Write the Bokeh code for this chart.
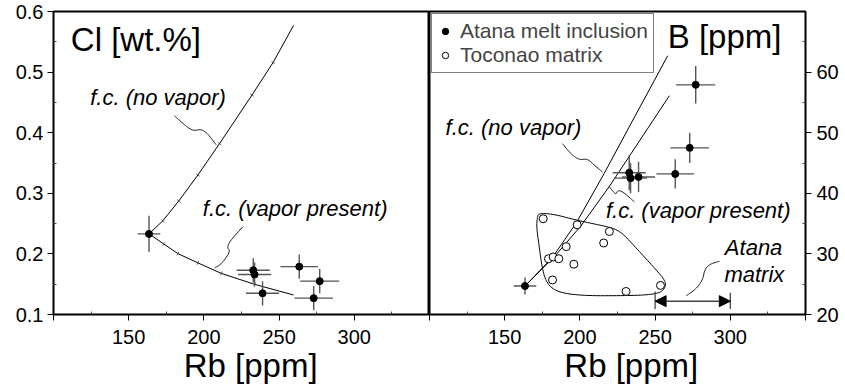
import math
from bokeh.plotting import figure
from bokeh.layouts import row
from bokeh.models import FixedTicker, Label, Arrow, NormalHead, Legend, LegendItem
from bokeh.embed import file_html
from bokeh.resources import INLINE

FONT = "Liberation Sans"

# ---------------- data ----------------
# Atana melt inclusions
rb_mi = [163.5, 232.8, 233.7, 239.0, 263.4, 277.0, 273.0]
rb_err = [7.5, 11.0, 11.0, 11.0, 12.5, 13.0, 12.8]
cl_mi = [0.233, 0.173, 0.166, 0.135, 0.179, 0.155, 0.127]
cl_err = [0.030, 0.020, 0.020, 0.020, 0.020, 0.020, 0.020]
b_mi = [24.7, 43.4, 42.5, 42.7, 43.2, 57.9, 47.5]
b_err = [1.4, 2.9, 2.5, 2.5, 2.4, 3.1, 2.5]

# Toconao matrix
rb_toc = [175.6, 198.2, 219.6, 215.8, 190.9, 179.1, 182.2, 186.0, 196.0, 181.8, 230.7, 253.6]
b_toc = [35.8, 34.8, 33.7, 31.8, 31.2, 29.2, 29.5, 29.2, 28.3, 25.7, 23.8, 24.8]

# fractional crystallisation model curves
fc_nv_rb_cl = [163.5, 172.7, 183.3, 196.0, 210.4, 232.0, 246.0, 259.6]
fc_nv_cl = [0.233, 0.2546, 0.2874, 0.3301, 0.3820, 0.4623, 0.5158, 0.5770]
fc_vp_rb_cl = [163.5, 173.3, 182.7, 196.0, 211.6, 233.8, 259.6]
fc_vp_cl = [0.233, 0.2164, 0.2005, 0.1852, 0.1678, 0.1497, 0.1322]
fc_nv_rb_b = [163.5, 181.7, 197.8, 216.2, 237.0, 258.4]
fc_nv_b = [24.7, 29.4, 35.2, 43.3, 52.9, 62.7]
fc_vp_rb_b = [163.5, 183.9, 200.6, 219.5, 259.5]
fc_vp_b = [24.7, 29.8, 34.6, 41.1, 56.1]

# outline around Toconao matrix field
hull_rb = [172.9, 181.8, 197.3, 208.4, 221.8, 228.4, 237.3, 248.4, 256.2, 257.3, 254.0, 244.0,
           226.2, 204.0, 188.4, 180.7, 176.9, 174.7, 172.9, 171.1, 171.8]
hull_b = [36.7, 36.6, 35.6, 35.0, 34.3, 33.4, 31.0, 28.0, 25.8, 24.7, 23.6, 23.2,
          23.1, 23.1, 23.5, 24.4, 25.8, 28.0, 31.3, 34.5, 36.2]

# Atana matrix range
atana_rb = [250, 300]

x_ticks = [100, 150, 200, 250, 300, 350]
x_minor = [125, 175, 225, 275, 325]
cl_ticks = [0.1, 0.2, 0.3, 0.4, 0.5, 0.6]
cl_minor = [0.15, 0.25, 0.35, 0.45, 0.55]
b_ticks = [20, 30, 40, 50, 60]
b_minor = [25, 35, 45, 55, 65]

# leader squiggles (annotation geometry)
lead_cl_nv = ([180.4, 186.7, 192.7, 197.8, 202.2, 208.2], [0.428, 0.4137, 0.4027, 0.406, 0.3995, 0.380])
lead_cl_vp = ([226.0, 217.1, 215.5, 217.7, 211.5, 207.1], [0.245, 0.2207, 0.2098, 0.2043, 0.1825, 0.177])
lead_b_nv = ([188.4, 194.0, 199.5, 205.0, 208.4, 215.1], [48.2, 46.5, 45.5, 45.7, 44.9, 43.5])
lead_b_vp = ([219.5, 224.0, 225.0, 228.4, 236.2], [41.1, 39.7, 40.5, 40.3, 38.6])
lead_atana = ([270.7, 277.3, 281.8, 282.9, 286.2, 292.9], [23.1, 24.2, 25.8, 27.4, 28.3, 28.8])


def chaikin(xs, ys, n=3, closed=False):
    pts = list(zip(xs, ys))
    for _ in range(n):
        new = []
        m = len(pts)
        rng = range(m) if closed else range(m - 1)
        if not closed:
            new.append(pts[0])
        for i in rng:
            p0 = pts[i]
            p1 = pts[(i + 1) % m]
            new.append((0.75 * p0[0] + 0.25 * p1[0], 0.75 * p0[1] + 0.25 * p1[1]))
            new.append((0.25 * p0[0] + 0.75 * p1[0], 0.25 * p0[1] + 0.75 * p1[1]))
        if not closed:
            new.append(pts[-1])
        pts = new
    if closed:
        pts.append(pts[0])
    return [p[0] for p in pts], [p[1] for p in pts]


def perp_angles(xs, ys, sx, sy):
    # angle (radians) perpendicular to the curve at interior points, in screen space
    out = []
    for i in range(1, len(xs) - 1):
        dx = (xs[i + 1] - xs[i - 1]) * sx
        dy = (ys[i + 1] - ys[i - 1]) * sy
        out.append(math.atan2(dy, dx) + math.pi / 2)
    return out


def style_axis(ax):
    ax.axis_line_color = "black"
    ax.axis_line_width = 1
    ax.major_tick_line_color = "black"
    ax.major_tick_out = 6
    ax.major_tick_in = 0
    ax.minor_tick_line_color = "#444444"
    ax.minor_tick_in = 3
    ax.minor_tick_out = 0
    ax.major_label_text_font = FONT
    ax.major_label_text_font_size = "20px"
    ax.major_label_text_color = "black"
    ax.major_label_standoff = 9
    ax.axis_label_text_font = FONT
    ax.axis_label_text_font_size = "33px"
    ax.axis_label_text_font_style = "normal"
    ax.axis_label_text_color = "black"
    ax.axis_label_standoff = 0


H = 390
ERR_C = "#555555"
NB = "\u00a0"

# ---------------- left panel: Cl ----------------
p1 = figure(width=429, height=H, x_range=(100, 350), y_range=(0.1, 0.6),
            output_backend="svg", toolbar_location=None,
            min_border_left=53, min_border_right=0, min_border_top=11, min_border_bottom=76)
p1.grid.visible = False
p1.outline_line_color = "black"
p1.outline_line_width = 2
p1.background_fill_color = "white"
p1.border_fill_color = "white"
p1.xaxis.ticker = FixedTicker(ticks=x_ticks, minor_ticks=x_minor)
p1.xaxis.major_label_overrides = {100: "", 350: ""}
p1.yaxis.ticker = FixedTicker(ticks=cl_ticks, minor_ticks=cl_minor)
p1.xaxis.axis_label = NB * 2 + "Rb [ppm]"
style_axis(p1.xaxis[0])
style_axis(p1.yaxis[0])
p1.yaxis[0].major_label_standoff = 4

p1.line(fc_nv_rb_cl, fc_nv_cl, line_color="black", line_width=1)
p1.line(fc_vp_rb_cl, fc_vp_cl, line_color="black", line_width=1)
# small step marks along the model curves
sx_px, sy_px = 1.5, 606.0
p1.scatter(fc_nv_rb_cl[1:-1], fc_nv_cl[1:-1], marker="dash", size=4, line_color="#333333", line_width=0.8,
           angle=perp_angles(fc_nv_rb_cl, fc_nv_cl, sx_px, sy_px))
p1.scatter(fc_vp_rb_cl[1:-1], fc_vp_cl[1:-1], marker="dash", size=4, line_color="#333333", line_width=0.8,
           angle=perp_angles(fc_vp_rb_cl, fc_vp_cl, sx_px, sy_px))

p1.segment(x0=[r - e for r, e in zip(rb_mi, rb_err)], x1=[r + e for r, e in zip(rb_mi, rb_err)],
           y0=cl_mi, y1=cl_mi, line_color=ERR_C, line_width=1.4)
p1.segment(x0=rb_mi, x1=rb_mi, y0=[c - e for c, e in zip(cl_mi, cl_err)],
           y1=[c + e for c, e in zip(cl_mi, cl_err)], line_color=ERR_C, line_width=1.4)
p1.scatter(rb_mi, cl_mi, marker="circle", size=7, fill_color="black", line_color="black")

for lx, ly in (lead_cl_nv, lead_cl_vp):
    sx, sy = chaikin(lx, ly, 3)
    p1.line(sx, sy, line_color="black", line_width=0.9)

p1.add_layout(Label(x=111.5, y=0.553, text="Cl [wt.%]", text_font=FONT, text_font_size="33px",
                    text_baseline="alphabetic", text_color="black"))
p1.add_layout(Label(x=124.4, y=0.458, text="f.c. (no vapor)", text_font=FONT, text_font_size="22px",
                    text_font_style="italic", text_baseline="middle", text_color="black"))
p1.add_layout(Label(x=199.3, y=0.2754, text="f.c. (vapor present)", text_font=FONT, text_font_size="22px",
                    text_font_style="italic", text_baseline="middle", text_color="black"))

# ---------------- right panel: B ----------------
p2 = figure(width=416, height=H, x_range=(100, 350), y_range=(20, 70),
            output_backend="svg", toolbar_location=None, y_axis_location="right",
            min_border_left=0, min_border_right=40, min_border_top=11, min_border_bottom=76)
p2.grid.visible = False
p2.outline_line_color = "black"
p2.outline_line_width = 2
p2.background_fill_color = "white"
p2.border_fill_color = "white"
p2.xaxis.ticker = FixedTicker(ticks=x_ticks, minor_ticks=x_minor)
p2.xaxis.major_label_overrides = {100: "", 350: ""}
p2.yaxis.ticker = FixedTicker(ticks=b_ticks, minor_ticks=b_minor)
p2.xaxis.axis_label = NB * 3 + "Rb [ppm]"
style_axis(p2.xaxis[0])
style_axis(p2.yaxis[0])
p2.yaxis[0].major_label_standoff = 5

hx, hy = chaikin(hull_rb, hull_b, 3, closed=True)
p2.line(hx, hy, line_color="black", line_width=1)
p2.line(fc_nv_rb_b, fc_nv_b, line_color="black", line_width=1)
p2.line(fc_vp_rb_b, fc_vp_b, line_color="black", line_width=1)

p2.segment(x0=[r - e for r, e in zip(rb_mi, rb_err)], x1=[r + e for r, e in zip(rb_mi, rb_err)],
           y0=b_mi, y1=b_mi, line_color=ERR_C, line_width=1.4)
p2.segment(x0=rb_mi, x1=rb_mi, y0=[c - e for c, e in zip(b_mi, b_err)],
           y1=[c + e for c, e in zip(b_mi, b_err)], line_color=ERR_C, line_width=1.4)
r_mi = p2.scatter(rb_mi, b_mi, marker="circle", size=7, fill_color="black", line_color="black")
r_toc = p2.scatter(rb_toc, b_toc, marker="circle", size=8, fill_color="white", line_color="black",
                   line_width=1)

for lx, ly in (lead_b_nv, lead_b_vp, lead_atana):
    sx, sy = chaikin(lx, ly, 3)
    p2.line(sx, sy, line_color="black", line_width=0.9)

# Atana matrix range arrow
p2.add_layout(Arrow(x_start=atana_rb[0], x_end=atana_rb[1], y_start=22.2, y_end=22.2,
                    line_color="#444444", line_width=1.5,
                    start=NormalHead(size=11, fill_color="black", line_color="black"),
                    end=NormalHead(size=11, fill_color="black", line_color="black")))
p2.segment(x0=atana_rb, x1=atana_rb, y0=[20.9, 20.9], y1=[23.8, 23.6], line_color="#444444", line_width=1.3)

p2.add_layout(Label(x=258.4, y=65.8, text="B [ppm]", text_font=FONT, text_font_size="33px",
                    text_baseline="alphabetic", text_color="black"))
p2.add_layout(Label(x=110.7, y=50.9, text="f.c. (no vapor)", text_font=FONT, text_font_size="22px",
                    text_font_style="italic", text_baseline="middle", text_color="black"))
p2.add_layout(Label(x=217.3, y=37.2, text="f.c. (vapor present)", text_font=FONT, text_font_size="22px",
                    text_font_style="italic", text_baseline="middle", text_color="black"))
p2.add_layout(Label(x=315.5, y=31.0, text="Atana", text_font=FONT, text_font_size="22px",
                    text_font_style="italic", text_baseline="middle", text_align="center", text_color="black"))
p2.add_layout(Label(x=316.0, y=26.6, text="matrix", text_font=FONT, text_font_size="22px",
                    text_font_style="italic", text_baseline="middle", text_align="center", text_color="black"))

legend = Legend(items=[LegendItem(label="Atana melt inclusion", renderers=[r_mi]),
                       LegendItem(label="Toconao matrix", renderers=[r_toc])],
                location="top_left", margin=2, padding=5, spacing=0,
                label_text_font=FONT, label_text_font_size="21px", label_standoff=7,
                glyph_width=16, glyph_height=16, label_height=22,
                border_line_color="black", border_line_width=1, background_fill_alpha=1.0)
p2.add_layout(legend)

layout = row(p1, p2)
open("out.html", "w").write(file_html(layout, INLINE))
